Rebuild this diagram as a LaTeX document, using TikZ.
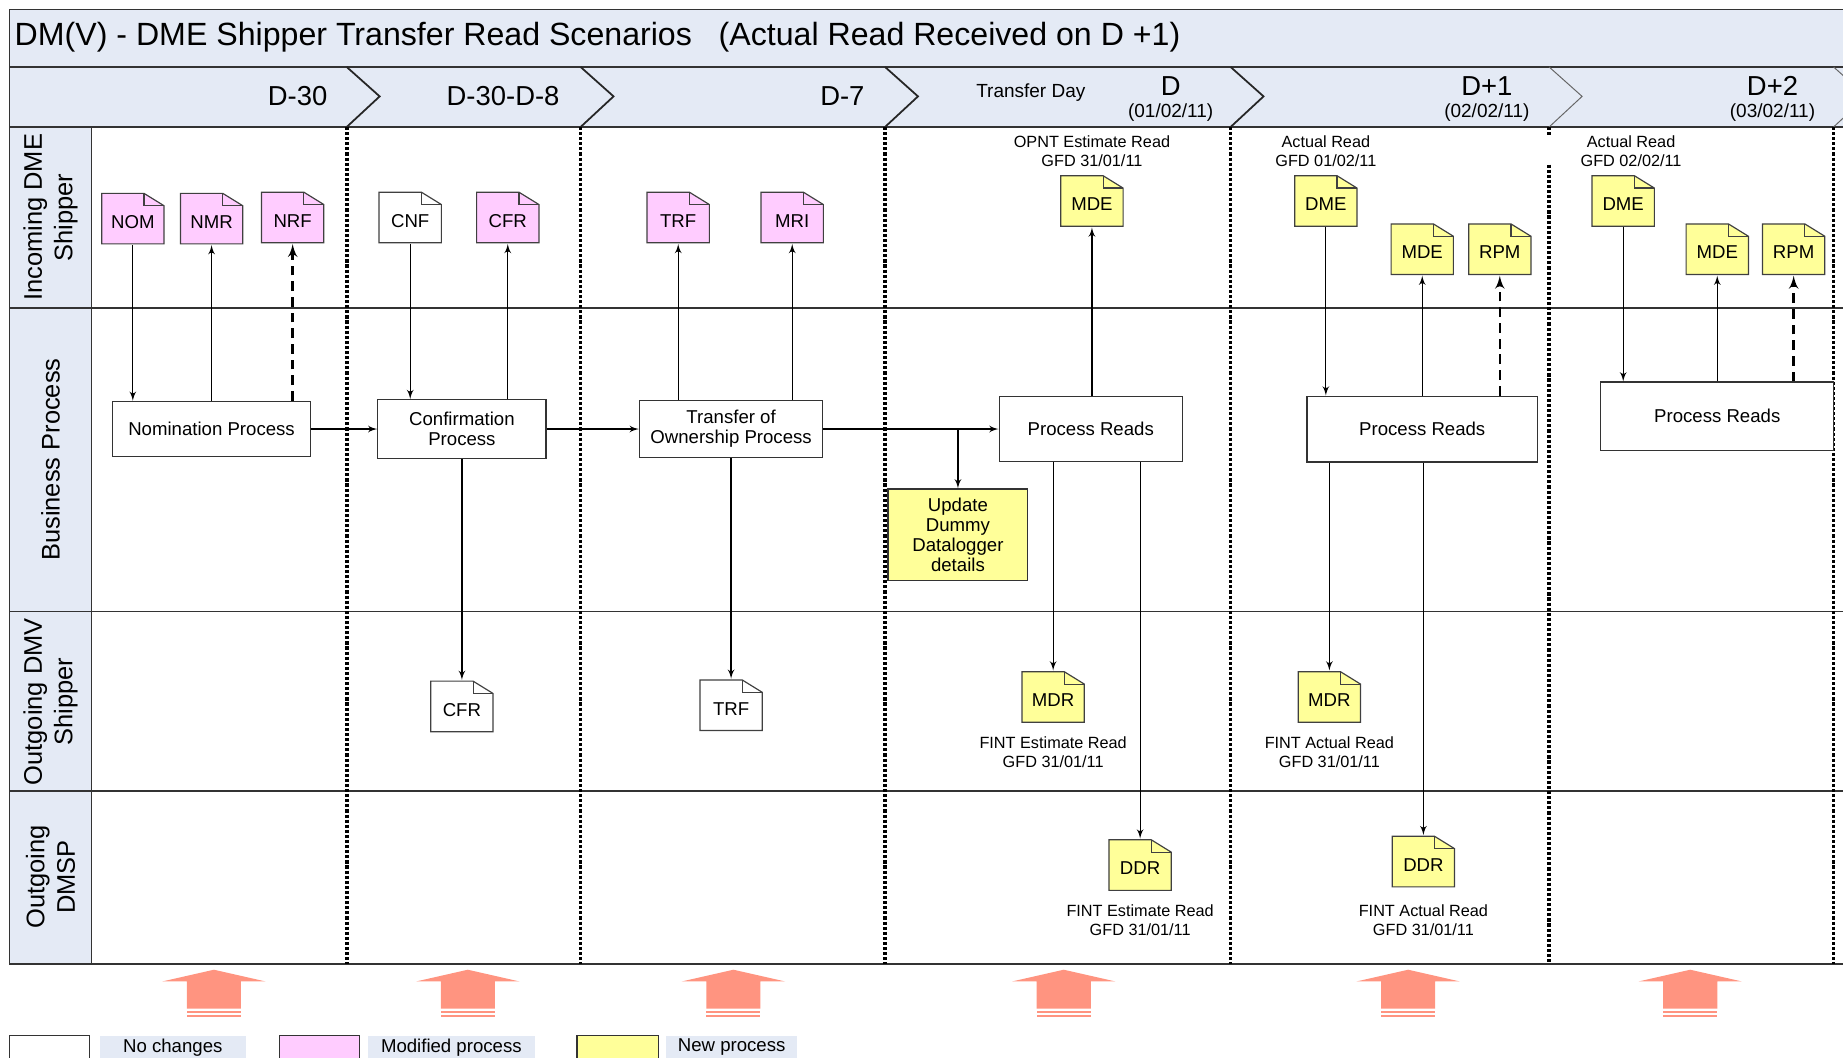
\documentclass[tikz,border=0pt]{standalone}
\usepackage{fontspec}
\setmainfont{Liberation Sans}
\usepackage{xcolor}
\usepackage{tikz}
\usetikzlibrary{arrows,positioning,calc}
\definecolor{lanebg}{RGB}{228,234,245}
\definecolor{modpink}{RGB}{255,204,255}
\definecolor{newyellow}{RGB}{255,255,153}
\definecolor{upsalmon}{RGB}{255,148,128}
\newcommand{\fstitle}{\fontsize{16.4}{19}\selectfont}
\newcommand{\fsphase}{\fontsize{14}{16}\selectfont}
\newcommand{\fsphsmall}{\fontsize{9.7}{11}\selectfont}
\newcommand{\fslane}{\fontsize{13}{15.6}\selectfont}
\newcommand{\fsproc}{\fontsize{9.5}{10.2}\selectfont}
\newcommand{\fsdoc}{\fontsize{9.5}{11}\selectfont}
\newcommand{\fslbl}{\fontsize{8.3}{9.6}\selectfont}
\tikzset{doc/.style={minimum width=32.4pt,minimum height=26.4pt,inner sep=0pt,font=\fsdoc,
    text height=10pt,text depth=0pt,
    path picture={
      \draw[black!75,fill=#1,line width=0.6pt]
        ([shift={(0.3pt,0.3pt)}]path picture bounding box.south west)
        |- ([shift={(-10.5pt,-0.3pt)}]path picture bounding box.north east)
        -- ([shift={(-0.3pt,-6.6pt)}]path picture bounding box.north east)
        -- ([shift={(-0.3pt,0.3pt)}]path picture bounding box.south east) -- cycle;
      \draw[black!75,line width=0.6pt]
        ([shift={(-10.5pt,-0.3pt)}]path picture bounding box.north east)
        |- ([shift={(-0.3pt,-6.6pt)}]path picture bounding box.north east);
    }}}
\tikzset{lanelabel/.style={rotate=90,align=center,font=\fslane,inner sep=0pt}}
\tikzstyle{proc}=[draw=black!80,fill=white,align=center,font=\fsproc,inner sep=1pt,line width=0.6pt]
\tikzstyle{lbl}=[align=center,font=\fslbl,inner sep=0pt]
\tikzstyle{phase}=[font=\fsphase,inner sep=0pt]
\tikzstyle{daysep}=[line width=1.8pt,dash pattern=on 1.6pt off 1pt]
\tikzstyle{dasharrow}=[->,line width=1.3pt,dash pattern=on 5pt off 3pt]

\begin{document}
\begin{tikzpicture}[x=0.6pt,y=-0.6pt,>=latex',line width=0.65pt]
    \useasboundingbox (0,0) rectangle (1568,900);
    % header bars, lane column and grid
    \fill[lanebg] (8,8) rectangle (1620,108);
    \fill[lanebg] (8,108) rectangle (78,820);
    \draw[black!80] (1620,8) -- (8,8) -- (8,820);
    \foreach \y in {57,108,262,520,673} \draw[black!80] (8,\y) -- (1620,\y);
    \draw[black!80,line width=1.2pt] (8,820) -- (1620,820);
    \draw[black!80] (78,108) -- (78,820);
    \foreach \x in {295,494,753,1047} \draw[black!85,line width=0.9pt] (\x,57) -- (\x+28,82) -- (\x,108);
    \foreach \x in {1318,1560} \draw[black!60,line width=0.5pt] (\x,57) -- (\x+28,82) -- (\x,108);
    \foreach \x in {295,494,753,1047,1560} \draw[daysep] (\x,108) -- (\x,820);
    \draw[daysep] (1318,108) -- (1318,116);
    \draw[daysep] (1318,140) -- (1318,820);

    \node (title) [anchor=west,inner sep=0pt,font=\fstitle] at (12,32) {DM(V) - DME Shipper Transfer Read Scenarios~~~(Actual Read Received on D +1)};

    % phases
    \node (dm30) [phase,anchor=east] at (279,82) {D-30};
    \node (dm30m8) [phase] at (428,82) {D-30-D-8};
    \node (dm7) [phase,anchor=east] at (736,82) {D-7};
    \node (tday) [font=\fsphsmall] at (877,79) {Transfer Day};
    \node (dday) [phase] at (996,73) {D};
    \node (ddate) [font=\fsphsmall,below of=dday,node distance=13.5pt] {(01/02/11)};
    \node (dpone) [phase] at (1265,73) {D+1};
    \node (dponedate) [font=\fsphsmall,below of=dpone,node distance=13.5pt] {(02/02/11)};
    \node (dptwo) [phase] at (1508,73) {D+2};
    \node (dptwodate) [font=\fsphsmall,below of=dptwo,node distance=13.5pt] {(03/02/11)};

    % lanes
    \node (lin) [lanelabel] at (43,185) {Incoming DME\\Shipper};
    \node (lbp) [lanelabel] at (43,391) {Business Process};
    \node (lout) [lanelabel] at (43,597) {Outgoing DMV\\Shipper};
    \node (ldmsp) [lanelabel] at (43,746) {Outgoing\\DMSP};

    % incoming flows
    \node (nom) [doc=modpink] at (113,186) {NOM};
    \node (nmr) [doc=modpink] at (180,186) {NMR};
    \node (nrf) [doc=modpink] at (249,185) {NRF};
    \node (cnf) [doc=white] at (349,185) {CNF};
    \node (cfr) [doc=modpink] at (432,185) {CFR};
    \node (trf) [doc=modpink] at (577,185) {TRF};
    \node (mri) [doc=modpink] at (674,185) {MRI};
    \node (mdeD) [doc=newyellow] at (929,171) {MDE};
    \node (dmeA) [doc=newyellow] at (1128,171) {DME};
    \node (mdeA) [doc=newyellow] at (1210,212) {MDE};
    \node (rpmA) [doc=newyellow] at (1276,212) {RPM};
    \node (dmeB) [doc=newyellow] at (1381,171) {DME};
    \node (mdeB) [doc=newyellow] at (1461,212) {MDE};
    \node (rpmB) [doc=newyellow] at (1526,212) {RPM};
    \node (lblmdeD) [lbl,above of=mdeD,node distance=25.5pt] {OPNT Estimate Read\\GFD 31/01/11};
    \node (lbldmeA) [lbl,above of=dmeA,node distance=25.5pt] {Actual Read\\GFD 01/02/11};
    \node (lbldmeB) [lbl,above of=dmeB,node distance=25.5pt,xshift=4pt] {Actual Read\\GFD 02/02/11};

    % business processes
    \node (nomproc) [proc,minimum width=100.8pt,minimum height=28.2pt] at (180,365) {Nomination Process};
    \node (confproc) [proc,minimum width=85.8pt,minimum height=30pt] at (393,365) {Confirmation\\Process};
    \node (topproc) [proc,minimum width=93.6pt,minimum height=29.4pt] at (622,365) {Transfer of\\Ownership Process};
    \node (readsD) [proc,minimum width=93.6pt,minimum height=33pt] at (928,365) {Process Reads};
    \node (upd) [proc,fill=newyellow,minimum width=71.4pt,minimum height=46.8pt] at (815,455) {Update\\Dummy\\Datalogger\\details};
    \node (readsA) [proc,minimum width=117.6pt,minimum height=33.6pt] at (1210,365) {Process Reads};
    \node (readsB) [proc,minimum width=118.8pt,minimum height=34.8pt] at (1461,354) {Process Reads};

    % outgoing flows
    \node (cfrout) [doc=white] at (393,601) {CFR};
    \node (trfout) [doc=white] at (622,600) {TRF};
    \node (mdrD) [doc=newyellow] at (896,593) {MDR};
    \node (mdrA) [doc=newyellow] at (1131,593) {MDR};
    \node (ddrD) [doc=newyellow] at (970,736) {DDR};
    \node (ddrA) [doc=newyellow] at (1211,733) {DDR};
    \node (lblmdrD) [lbl,below of=mdrD,node distance=28.2pt] {FINT Estimate Read\\GFD 31/01/11};
    \node (lblmdrA) [lbl,below of=mdrA,node distance=28.2pt] {FINT Actual Read\\GFD 31/01/11};
    \node (lblddrD) [lbl,below of=ddrD,node distance=28.2pt] {FINT Estimate Read\\GFD 31/01/11};
    \node (lblddrA) [lbl,below of=ddrA,node distance=30pt] {FINT Actual Read\\GFD 31/01/11};

    % connectors
    \draw[->] (nom) -- (nom |- nomproc.north);
    \draw[->] (nmr |- nomproc.north) -- (nmr);
    \draw[dasharrow] (nrf |- nomproc.north) -- (nrf);
    \draw[->] (nomproc) -- (confproc);
    \draw[->] (cnf) -- (cnf |- confproc.north);
    \draw[->] (cfr |- confproc.north) -- (cfr);
    \draw[->] (confproc) -- (topproc);
    \draw[->] (confproc) -- (cfrout);
    \draw[->] (trf |- topproc.north) -- (trf);
    \draw[->] (mri |- topproc.north) -- (mri);
    \draw[->] (topproc) -- (trfout);
    \draw[->] (topproc) -- (readsD);
    \draw[->] (topproc -| upd) -- (upd);
    \draw[->] (mdeD |- readsD.north) -- (mdeD);
    \draw[->] (readsD.south -| mdrD) -- (mdrD);
    \draw[->] (readsD.south -| ddrD) -- (ddrD);
    \draw[->] (dmeA) -- (dmeA |- readsA.north);
    \draw[->] (mdeA |- readsA.north) -- (mdeA);
    \draw[dasharrow] (rpmA |- readsA.north) -- (rpmA);
    \draw[->] (readsA.south -| mdrA) -- (mdrA);
    \draw[->] (readsA.south -| ddrA) -- (ddrA);
    \draw[->] (dmeB) -- (dmeB |- readsB.north);
    \draw[->] (mdeB |- readsB.north) -- (mdeB);
    \draw[dasharrow] (rpmB |- readsB.north) -- (rpmB);

    % big arrows under the days
    \foreach \x in {182,398,624,905,1198,1438} {
        \fill[upsalmon] (\x,825) -- (\x+44,835) -- (\x+23,835) -- (\x+23,858) -- (\x-23,858) -- (\x-23,835) -- (\x-44,835) -- cycle;
        \fill[upsalmon] (\x-23,860) rectangle (\x+23,862);
        \fill[upsalmon] (\x-23,863.5) rectangle (\x+23,865.5);
    }

    % legend
    \draw[black!80] (8,881) rectangle (76,915);
    \fill[lanebg] (85,881) rectangle (209,915);
    \node (lgnone) [font=\fsdoc] at (147,891) {No changes};
    \draw[black!80,fill=modpink] (238,881) rectangle (306,915);
    \fill[lanebg] (313,881) rectangle (455,915);
    \node (lgmod) [font=\fsdoc] at (384,891) {Modified process};
    \draw[black!80,fill=newyellow] (491,881) rectangle (560,915);
    \fill[lanebg] (567,881) rectangle (678,915);
    \node (lgnew) [font=\fsdoc] at (622.5,891) {New process};
\end{tikzpicture}
\end{document}
